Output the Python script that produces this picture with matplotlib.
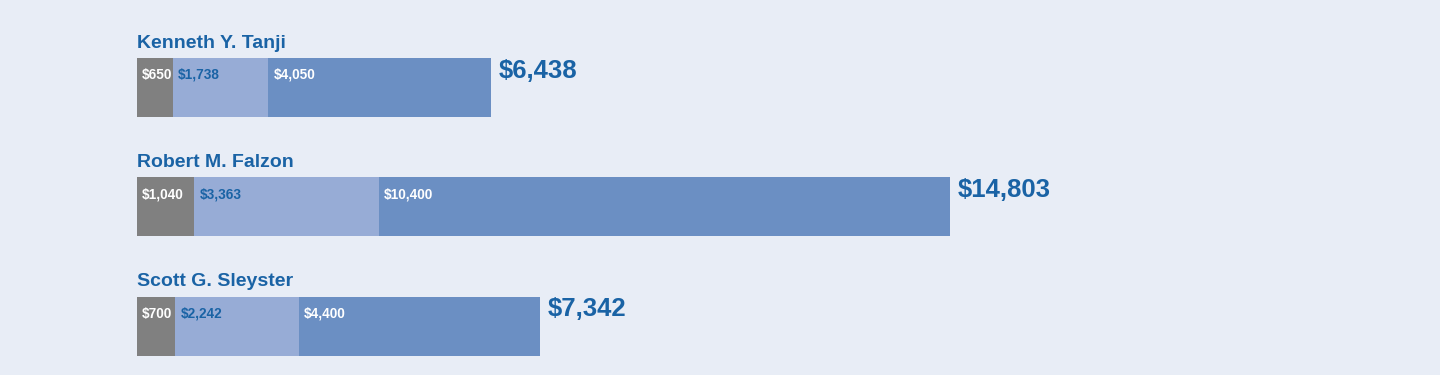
import matplotlib.pyplot as plt

names = ["Kenneth Y. Tanji", "Robert M. Falzon", "Scott G. Sleyster"]
seg1 = [650, 1040, 700]
seg2 = [1738, 3363, 2242]
seg3 = [4050, 10400, 4400]
totals = [6438, 14803, 7342]

bg = "#e8edf6"
blue_txt = "#1a63a5"
colors = ["#808080", "#97acd6", "#6b8fc3"]
label_colors = ["white", blue_txt, "white"]

fig = plt.figure(figsize=(14.4, 3.75), dpi=100)
fig.patch.set_facecolor(bg)
ax = fig.add_axes([137 / 1440, 0, 1 - 137 / 1440, 1])
ax.set_facecolor(bg)
ax.set_xlim(0, 23725)
ax.set_ylim(2.41, -0.733)
ax.axis("off")

h = 0.495
for i, name in enumerate(names):
    left = 0
    for k, vals in enumerate([seg1, seg2, seg3]):
        v = vals[i]
        ax.barh(i, v, left=left, height=h, color=colors[k], edgecolor="none")
        ax.annotate(f"${v:,}", (left, i - 0.105), xytext=(3.8, 0),
                    textcoords="offset points", va="center", ha="left",
                    fontsize=9.8, fontweight="bold", family="Liberation Sans",
                    color=label_colors[k])
        left += v
    ax.annotate(f"${totals[i]:,}", (totals[i], i - 0.14), xytext=(5.5, 0),
                textcoords="offset points", va="center", ha="left",
                fontsize=18.5, fontweight="bold", family="Liberation Sans",
                color=blue_txt)
    ax.text(0, i - h / 2 - 0.085, name, va="baseline", ha="left",
            fontsize=14, fontweight="bold", family="Liberation Sans",
            color=blue_txt)

fig.savefig("out.png", dpi=100, facecolor=bg)
